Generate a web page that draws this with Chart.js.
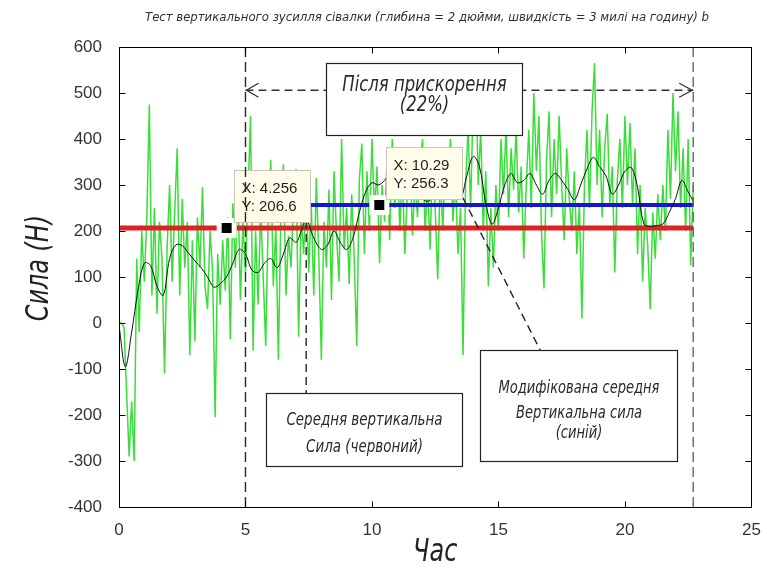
<!DOCTYPE html>
<html>
<head>
<meta charset="utf-8">
<script src="https://cdn.jsdelivr.net/npm/chart.js@4/dist/chart.umd.min.js"></script>
<style>
  html, body { margin: 0; padding: 0; background: #ffffff; }
  #wrap { width: 767px; height: 577px; }
  canvas { display: block; }
</style>
</head>
<body>
<div id="wrap"><canvas id="chart" width="767" height="577"></canvas></div>
<script>
// ---- text ----
const chartTitle = 'Тест вертикального зусилля сівалки (глибина = 2 дюйми, швидкість = 3 милі на годину) b';
const xAxisLabel = 'Час';
const yAxisLabel = 'Сила (Н)';
const accelNote = ['Після прискорення', '(22%)'];
const meanNote = ['Середня вертикальна', 'Сила (червоний)'];
const modNote = ['Модифікована середня', 'Вертикальна сила', '(синій)'];

// ---- ticks ----
const xTickValues = [0, 5, 10, 15, 20, 25];
const yTickValues = [-400, -300, -200, -100, 0, 100, 200, 300, 400, 500, 600];

// ---- measured force, sampled every 0.1 time units from t = 0 ----
const sampleStep = 0.1;
const rawForce = [
  0, 0, -10, -150, -290, -170, -300, 140, -20, 200,
  90, 230, 475, 60, 250, 20, 220, 140, -110, 160,
  300, 90, 240, 380, 60, 270, 120, 220, -70, 180,
  -40, 230, 120, 295, 80, 30, 200, 110, -205, 150,
  40, 180, 70, 230, -35, 260, 120, 300, 50, 220,
  110, 280, 450, -60, 200, 40, 250, 100, -50, 230,
  355, 80, 210, -80, 240, 345, 60, 190, 120, 270,
  335, -30, 230, 150, 290, 110, 260, 60, 315, 140,
  -80, 220, 120, 290, 50, 330, 190, 90, 400, 160,
  250, 85, 280, 140, -50, 310, 390, 150, 330, 200,
  400, 240, 340, 130, 300, 220, 360, 180, 400, 250,
  380, 200, 330, 150, 290, 360, 190, 310, 230, 350,
  400, 200, 300, 160, 380, 250, 95, 330, 200, 360,
  280, 400, 220, 320, 150, 250, -70, 300, 420, 250,
  480, 565, 300, 420, 200, 330, 80, 250, 120, 300,
  200, 400, 280, 430, 230, 380, 290, 420, 240, 340,
  140, 300, 420, 250, 500, 330, 450, 200, 75, 350,
  460, 230, 400, 280, 450, 300, 180, 380, 270, 200,
  330, 150, 260, 10, 300, 420, 250, 460, 565, 300,
  420, 230, 380, 455, 260, 340, 110, 310, 400, 250,
  450, 300, 435, 260, 380, 150, 300, 90, 250, 170,
  30, 240, 140, 280, 180, 300, 200, 420, 270, 500,
  330, 460, 250, 380, 200, 400, 125, 300
];

// ---- smoothed force ----
const smoothTime = [
  0, 0.25, 0.5, 0.75, 1, 1.25, 1.5, 1.75, 2, 2.25, 2.5, 2.75, 3, 3.25, 3.5, 3.75,
  4, 4.25, 4.5, 4.75, 5, 5.25, 5.5, 5.75, 6, 6.25, 6.5, 6.75, 7, 7.2, 7.4, 7.7,
  8, 8.25, 8.5, 8.75, 9, 9.25, 9.5, 9.75, 10, 10.25, 10.5, 10.75, 11, 11.25, 11.5, 11.75,
  12, 12.25, 12.5, 12.75, 13, 13.25, 13.5, 13.75, 14, 14.25, 14.5, 14.75, 15, 15.25, 15.5, 15.75,
  16, 16.25, 16.5, 16.75, 17, 17.25, 17.5, 17.75, 18, 18.25, 18.5, 18.75, 19, 19.25, 19.5, 19.75,
  20, 20.25, 20.5, 20.75, 21, 21.25, 21.5, 21.75, 22, 22.25, 22.5, 22.7
];
const smoothForce = [
  -5, -95, -20, 70, 130, 125, 80, 60, 140, 170, 168, 152, 135, 120, 100, 78,
  85, 100, 130, 160, 150, 115, 110, 130, 140, 120, 150, 185, 175, 200, 224, 185,
  160, 170, 200, 175, 160, 185, 240, 285, 305, 300, 310, 330, 320, 300, 290, 300,
  270, 265, 280, 300, 310, 290, 270, 320, 362, 340, 260, 215, 250, 300, 325, 305,
  310, 325, 300, 280, 310, 325, 310, 290, 268, 300, 335, 360, 340, 320, 280, 300,
  330, 338, 295, 215, 210, 212, 215, 240, 270, 310, 285, 265
];

// ---- mean levels and their time spans ----
const meanForce = 206.6;
const meanSpan = [0, 22.7];
const modifiedForce = 256.3;
const modifiedSpan = [7.5, 22.7];
const tipTimes = [4.256, 10.29];

// ---- time marks ----
const accelSpan = [5.0, 22.7];

const rawPoints = rawForce.map((v, i) => ({ x: +(i * sampleStep).toFixed(2), y: v }));
const smoothPoints = smoothTime.map((t, i) => ({ x: t, y: smoothForce[i] }));
const tipLevels = [meanForce, modifiedForce];
const tipPoints = tipTimes.map((t, i) => ({ x: t, y: tipLevels[i] }));

const noteFont = "'Liberation Sans Narrow', 'DejaVu Sans Condensed', sans-serif";
const narrow = 0.83; // horizontal squeeze for the drafting-style lettering

// annotation layout in axis units
const notes = {
  arrowLevel: 506,
  accelBox: { x0: 8.19, x1: 15.94, y0: 565, y1: 409, size: 22, lines: accelNote, dy: [22, 42] },
  meanBox: { x0: 5.83, x1: 13.54, y0: -152, y1: -311, size: 18, lines: meanNote, dy: [27, 54] },
  modBox: { x0: 14.29, x1: 22.05, y0: -59, y1: -300, size: 17.5, lines: modNote, dy: [38, 63, 83] },
  meanLink: { x0: 7.4, y0: 222, x1: 7.4, y1: -152 },
  modLink: { x0: 13.6, y0: 272, x1: 16.65, y1: -59 }
};

function dashedLine(ctx, x0, y0, x1, y1, dash, color, width) {
  ctx.save();
  ctx.setLineDash(dash);
  ctx.strokeStyle = color;
  ctx.lineWidth = width;
  ctx.beginPath();
  ctx.moveTo(x0, y0);
  ctx.lineTo(x1, y1);
  ctx.stroke();
  ctx.restore();
}

// italic lettering squeezed horizontally around (x, y)
function narrowText(ctx, s, x, y, size, color, angle) {
  ctx.save();
  ctx.translate(x, y);
  if (angle) ctx.rotate(angle);
  ctx.scale(narrow, 1);
  ctx.fillStyle = color;
  ctx.font = 'italic ' + size + 'px ' + noteFont;
  ctx.textAlign = 'center';
  ctx.textBaseline = 'middle';
  ctx.fillText(s, 0, 0);
  ctx.restore();
}

function noteBox(ctx, xs, ys, b) {
  const l = Math.round(xs.getPixelForValue(b.x0)) + 0.5;
  const r = Math.round(xs.getPixelForValue(b.x1)) + 0.5;
  const t = Math.round(ys.getPixelForValue(b.y0)) + 0.5;
  const btm = Math.round(ys.getPixelForValue(b.y1)) + 0.5;
  ctx.save();
  ctx.fillStyle = '#ffffff';
  ctx.fillRect(l, t, r - l, btm - t);
  ctx.strokeStyle = '#222';
  ctx.lineWidth = 1.2;
  ctx.strokeRect(l, t, r - l, btm - t);
  ctx.restore();
  b.lines.forEach((s, i) => narrowText(ctx, s, (l + r) / 2, t + b.dy[i], b.size, '#2a2a2a', 0));
}

const overlay = {
  id: 'overlay',
  afterDatasetsDraw(chart) {
    const ctx = chart.ctx;
    const xs = chart.scales.x, ys = chart.scales.y;
    const a = chart.chartArea;

    // connectors from the curves to the notes
    const ml = notes.meanLink, kl = notes.modLink;
    dashedLine(ctx, xs.getPixelForValue(ml.x0), ys.getPixelForValue(ml.y0),
      xs.getPixelForValue(ml.x1), ys.getPixelForValue(ml.y1), [8, 5], '#222', 1.4);
    dashedLine(ctx, xs.getPixelForValue(kl.x0), ys.getPixelForValue(kl.y0),
      xs.getPixelForValue(kl.x1), ys.getPixelForValue(kl.y1), [8, 5], '#222', 1.4);

    // span arrow
    const ay = ys.getPixelForValue(notes.arrowLevel);
    const ax0 = xs.getPixelForValue(accelSpan[0]);
    const ax1 = xs.getPixelForValue(accelSpan[1]);
    dashedLine(ctx, ax0, ay, ax1, ay, [8, 5], '#333', 1.3);
    ctx.save();
    ctx.strokeStyle = '#333';
    ctx.lineWidth = 1.3;
    ctx.beginPath();
    ctx.moveTo(ax0 + 13, ay - 7); ctx.lineTo(ax0 + 1, ay); ctx.lineTo(ax0 + 13, ay + 7);
    ctx.moveTo(ax1 - 14, ay - 7); ctx.lineTo(ax1 - 1, ay); ctx.lineTo(ax1 - 14, ay + 7);
    ctx.stroke();
    ctx.restore();

    noteBox(ctx, xs, ys, notes.accelBox);
    noteBox(ctx, xs, ys, notes.meanBox);
    noteBox(ctx, xs, ys, notes.modBox);

    // data tips
    ctx.save();
    tipPoints.forEach(p => {
      const px = xs.getPixelForValue(p.x), py = ys.getPixelForValue(p.y);
      const l = Math.round(px + 7) + 0.5, t = Math.round(py - 58) + 0.5;
      ctx.fillStyle = '#fffdea';
      ctx.fillRect(l, t, 76, 52);
      ctx.strokeStyle = '#c9c6b8';
      ctx.lineWidth = 1;
      ctx.strokeRect(l, t, 76, 52);
      ctx.fillStyle = '#1e1e1e';
      ctx.font = "15px 'Liberation Sans', Arial, sans-serif";
      ctx.textAlign = 'left';
      ctx.textBaseline = 'middle';
      ctx.fillText('X: ' + p.x, l + 7, t + 18);
      ctx.fillText('Y: ' + p.y.toFixed(1), l + 7, t + 36);
    });
    ctx.restore();

    // vertical time marks
    dashedLine(ctx, ax0, a.top, ax0, a.bottom, [10, 5], '#2a2a2a', 1.4);
    dashedLine(ctx, ax1, a.top, ax1, a.bottom, [10, 5], '#666', 1.4);

    // axes box with inward ticks
    ctx.save();
    ctx.strokeStyle = '#000';
    ctx.lineWidth = 1;
    const L = Math.round(a.left) + 0.5, R = Math.round(a.right) + 0.5;
    const T = Math.round(a.top) + 0.5, B = Math.round(a.bottom) + 0.5;
    ctx.strokeRect(L, T, R - L, B - T);
    ctx.beginPath();
    xTickValues.forEach(v => {
      const px = Math.round(xs.getPixelForValue(v)) + 0.5;
      ctx.moveTo(px, B); ctx.lineTo(px, B - 6);
      ctx.moveTo(px, T); ctx.lineTo(px, T + 6);
    });
    yTickValues.forEach(v => {
      const py = Math.round(ys.getPixelForValue(v)) + 0.5;
      ctx.moveTo(L, py); ctx.lineTo(L + 6, py);
      ctx.moveTo(R, py); ctx.lineTo(R - 6, py);
    });
    ctx.stroke();
    ctx.restore();
  },
  afterDraw(chart) {
    const ctx = chart.ctx;
    const a = chart.chartArea;
    ctx.save();
    ctx.fillStyle = '#303030';
    ctx.font = "italic 13px 'DejaVu Sans Condensed', 'Liberation Sans Narrow', sans-serif";
    ctx.textAlign = 'center';
    ctx.textBaseline = 'middle';
    ctx.fillText(chartTitle, 427, 18);
    ctx.restore();

    // axis titles
    narrowText(ctx, xAxisLabel, (a.left + a.right) / 2, 553, 32, '#222', 0);
    narrowText(ctx, yAxisLabel, 40, 268, 32, '#222', -Math.PI / 2);
  }
};

new Chart(document.getElementById('chart'), {
  type: 'line',
  data: {
    datasets: [
      {
        label: 'raw',
        data: rawPoints,
        borderColor: '#3ade3a',
        borderWidth: 1.5,
        pointRadius: 0,
        tension: 0,
        order: 5
      },
      {
        label: 'mean',
        data: [{ x: meanSpan[0], y: meanForce }, { x: meanSpan[1], y: meanForce }],
        borderColor: '#dc2222',
        borderWidth: 5,
        pointRadius: 0,
        order: 4
      },
      {
        label: 'modified mean',
        data: [{ x: modifiedSpan[0], y: modifiedForce }, { x: modifiedSpan[1], y: modifiedForce }],
        borderColor: '#1616d2',
        borderWidth: 4,
        pointRadius: 0,
        order: 3
      },
      {
        label: 'smoothed',
        data: smoothPoints,
        borderColor: '#111111',
        borderWidth: 1,
        pointRadius: 0,
        tension: 0.35,
        order: 2
      },
      {
        label: 'tips',
        data: tipPoints,
        showLine: false,
        pointStyle: 'rect',
        pointRadius: 10.6,
        pointBackgroundColor: '#000',
        pointBorderColor: '#fff',
        pointBorderWidth: 5,
        order: 1
      }
    ]
  },
  options: {
    responsive: false,
    animation: false,
    devicePixelRatio: 1,
    layout: { padding: { top: 47, right: 15, left: 0, bottom: 0 } },
    plugins: { legend: { display: false }, tooltip: { enabled: false }, title: { display: false } },
    scales: {
      x: {
        type: 'linear',
        min: 0,
        max: 25,
        afterBuildTicks: s => { s.ticks = xTickValues.map(v => ({ value: v })); },
        afterFit: s => { s.height = 70; },
        grid: { display: false },
        border: { display: false },
        ticks: {
          font: { family: "'Liberation Sans', Arial, sans-serif", size: 17 },
          color: '#333',
          padding: 5,
          maxRotation: 0,
          autoSkip: false
        },
        title: { display: false }
      },
      y: {
        min: -400,
        max: 600,
        afterBuildTicks: s => { s.ticks = yTickValues.map(v => ({ value: v })); },
        afterFit: s => { s.width = 119; },
        grid: { display: false },
        border: { display: false },
        ticks: {
          font: { family: "'Liberation Sans', Arial, sans-serif", size: 17 },
          color: '#333',
          padding: 9,
          autoSkip: false
        },
        title: { display: false }
      }
    }
  },
  plugins: [overlay]
});
</script>
</body>
</html>
